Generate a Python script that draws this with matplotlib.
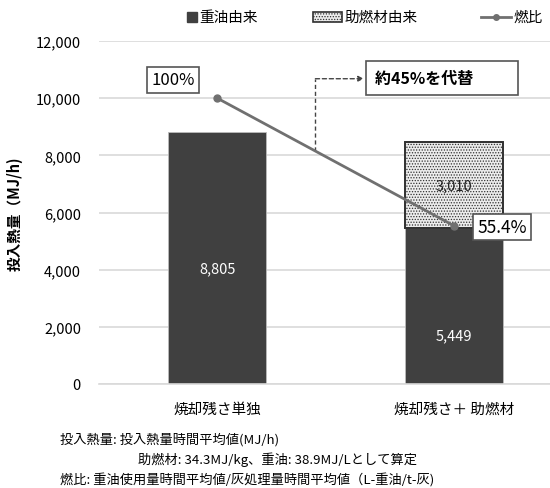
import matplotlib.pyplot as plt
from matplotlib.patches import Rectangle
from matplotlib.lines import Line2D

plt.rcParams["font.family"] = ["Noto Sans CJK JP", "DejaVu Sans"]
plt.rcParams["hatch.color"] = "#9a9a9a"
plt.rcParams["hatch.linewidth"] = 0.6

categories = ["焼却残さ単独", "焼却残さ＋ 助燃材"]
heavy_oil = [8805, 5449]
aux_fuel = [0, 3010]
fuel_ratio = [100, 55.4]
yticks = [0, 2000, 4000, 6000, 8000, 10000, 12000]

dark = "#404040"
grid_col = "#d9d9d9"
line_col = "#707070"

W, H = 550, 489
fig = plt.figure(figsize=(5.5, 4.89), dpi=100)
ax = fig.add_axes([99 / W, 1 - 385 / H, 451 / W, 343 / H])

x = list(range(len(categories)))
width = 0.415
ax.bar(x, heavy_oil, width=width, color=dark, edgecolor="#bbbbbb", linewidth=0.6, zorder=2)
ax.bar(x[1], aux_fuel[1], width=width, bottom=heavy_oil[1], color="#ececec",
       edgecolor="#303030", linewidth=1.4, hatch="......", zorder=2)

ax.set_ylim(0, 12000)
ax.set_xlim(-0.5, -0.5 + 451 / 236.5)
ax.set_yticks(yticks)
ax.set_yticklabels([f"{v:,}" for v in yticks], fontsize=10.5)
ax.yaxis.grid(True, color=grid_col, linewidth=1.2, zorder=0)
ax.set_axisbelow(True)
for s in ["top", "right", "left"]:
    ax.spines[s].set_visible(False)
ax.spines["bottom"].set_color(grid_col)
ax.spines["bottom"].set_linewidth(1.2)
ax.tick_params(axis="y", length=0, pad=13)
ax.tick_params(axis="x", length=0, pad=13)
ax.set_xticks(x)
ax.set_xticklabels(categories, fontsize=10.5)
ax.set_ylabel("投入熱量（MJ/h)", fontsize=10.5, fontweight="bold", labelpad=9)

# bar value labels
ax.text(x[0], 4050, f"{heavy_oil[0]:,}", color="white", ha="center", va="center", fontsize=10.5)
ax.text(x[1], 1710, f"{heavy_oil[1]:,}", color="white", ha="center", va="center", fontsize=10.5)
ax.text(x[1], heavy_oil[1] + aux_fuel[1] / 2, f"{aux_fuel[1]:,}", color="#222222",
        ha="center", va="center", fontsize=10.5)

# fuel ratio line on a hidden twin axis (100% level = 10,000)
ax2 = ax.twinx()
ax2.set_ylim(0, 120)
ax2.axis("off")
ax2.plot(x, fuel_ratio, color=line_col, linewidth=2, marker="o", markersize=5, zorder=5)

box = dict(boxstyle="square,pad=0.25", facecolor="white", edgecolor="#555555", linewidth=1.2)
ax2.text(x[0] - 0.186, 106.4, f"{fuel_ratio[0]:.0f}%", fontsize=12,
         ha="center", va="center", bbox=box, zorder=6)
ax2.text(x[1] + 0.205, fuel_ratio[1] - 0.5, f"{fuel_ratio[1]}%", fontsize=12.5,
         ha="center", va="center", bbox=box, zorder=6)

# dashed arrow and callout
xd = 0.415
yd = fuel_ratio[0] + (fuel_ratio[1] - fuel_ratio[0]) * xd
ya = 106.8
ax2.plot([xd, xd], [yd, ya], color="#444444", linestyle=(0, (3, 2)), linewidth=1)
ax2.annotate("", xy=(0.62, ya), xytext=(xd, ya),
             arrowprops=dict(arrowstyle="-|>", color="#444444", linestyle=(0, (3, 2)),
                             linewidth=1, shrinkA=0, shrinkB=0, mutation_scale=8))
ax2.text(0.665, ya + 0.3, "約45%を代替          ", fontsize=11.5, fontweight="bold", ha="left",
         va="center",
         bbox=dict(boxstyle="square,pad=0.55", facecolor="white", edgecolor="#555555", linewidth=1.2))

# legend drawn by hand in pixel positions
ly = 1 - 18 / H
fig.add_artist(Rectangle((187 / W, 1 - 23 / H), 10 / W, 10 / H, transform=fig.transFigure,
                         facecolor=dark, edgecolor=dark))
fig.text(199 / W, ly, "重油由来", fontsize=10.5, va="center")
fig.add_artist(Rectangle((313 / W, 1 - 23 / H), 29 / W, 10 / H, transform=fig.transFigure,
                         facecolor="#ececec", edgecolor="#303030", hatch="......", linewidth=1.2))
fig.text(345 / W, ly, "助燃材由来", fontsize=10.5, va="center")
fig.add_artist(Line2D([481 / W, 511 / W], [ly, ly], transform=fig.transFigure, color=line_col,
                      linewidth=2))
fig.add_artist(Line2D([496 / W], [ly], transform=fig.transFigure, color=line_col, marker="o",
                      markersize=4))
fig.text(513 / W, ly, "燃比", fontsize=10.5, va="center")

# footnotes
fig.text(60 / W, 1 - 440 / H, "投入熱量: 投入熱量時間平均値(MJ/h)", fontsize=9.5, va="center")
fig.text(138 / W, 1 - 460 / H, "助燃材: 34.3MJ/kg、重油: 38.9MJ/Lとして算定", fontsize=9.5, va="center")
fig.text(60 / W, 1 - 481 / H, "燃比: 重油使用量時間平均値/灰処理量時間平均値（L-重油/t-灰)",
         fontsize=9.5, va="center")

fig.savefig("out.png", dpi=100)
